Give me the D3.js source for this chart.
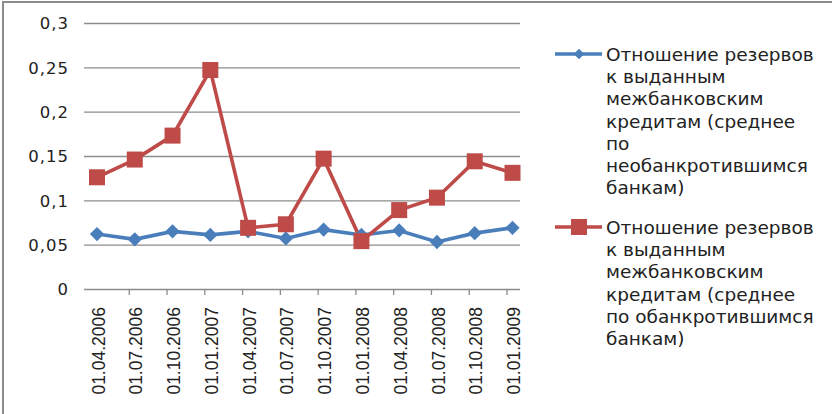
<!DOCTYPE html>
<html>
<head>
<meta charset="utf-8">
<script src="https://cdn.jsdelivr.net/npm/d3@7"></script>
<style>
  body { margin: 0; background: #fff; }
  svg { display: block; }
</style>
</head>
<body>
<div class="chart"></div>
<script>
/* Data
============================================= */
const DATES = ["01.04.2006", "01.07.2006", "01.10.2006", "01.01.2007",
               "01.04.2007", "01.07.2007", "01.10.2007", "01.01.2008",
               "01.04.2008", "01.07.2008", "01.10.2008", "01.01.2009"];

// average for banks that did not go bankrupt
const SURVIVED = [0.062, 0.056, 0.065, 0.061, 0.065, 0.057,
                  0.067, 0.061, 0.066, 0.053, 0.063, 0.069];

// average for banks that went bankrupt
const BANKRUPT = [0.126, 0.146, 0.173, 0.247, 0.069, 0.073,
                  0.147, 0.054, 0.089, 0.103, 0.144, 0.131];

const Y_TICKS = [0, 0.05, 0.1, 0.15, 0.2, 0.25, 0.3];

const LEGEND_1 = ["Отношение резервов", "к выданным", "межбанковским",
                  "кредитам (среднее", "по", "необанкротившимся", "банкам)"];
const LEGEND_2 = ["Отношение резервов", "к выданным", "межбанковским",
                  "кредитам (среднее", "по обанкротившимся", "банкам)"];

const BLUE = "#4a7ebb";
const RED = "#be4b48";

/* Layout
============================================= */
const SVG_WIDTH = 832;
const SVG_HEIGHT = 414;

const plotLeft = 84, plotRight = 520;
const plotTop = 23, plotBottom = 289;

var svg = d3.select(".chart")
    .append("svg")
    .attr("width", SVG_WIDTH)
    .attr("height", SVG_HEIGHT);

// chart frame (only left and top edges show)
svg.append("path")
    .attr("d", `M3,${SVG_HEIGHT} L3,2 L${SVG_WIDTH},2`)
    .attr("fill", "none")
    .attr("stroke", "#8c8c8c")
    .attr("stroke-width", 2);

var xScale = d3.scalePoint()
    .domain(DATES)
    .range([97, 512.5]);

var yScale = d3.scaleLinear()
    .domain([0, 0.3])
    .range([plotBottom, plotTop]);

var fmt = function(d) { return String(d).replace(".", ","); };

// gridlines + y labels
var yAxis = svg.append("g")
    .attr("transform", `translate(${plotLeft},0)`)
    .call(d3.axisLeft(yScale)
        .tickValues(Y_TICKS)
        .tickSize(-(plotRight - plotLeft))
        .tickPadding(15)
        .tickFormat(fmt));

yAxis.select(".domain").remove();
yAxis.selectAll(".tick line")
    .attr("stroke", "#8c8c8c")
    .attr("stroke-width", 1.3);
yAxis.selectAll(".tick text")
    .attr("font-family", "DejaVu Sans")
    .attr("font-size", 16.5)
    .attr("letter-spacing", 1)
    .attr("fill", "#222")
    .attr("dy", "0.35em");

// x axis
var xAxis = svg.append("g")
    .attr("transform", `translate(0,${plotBottom})`)
    .call(d3.axisBottom(xScale).tickSize(0).tickPadding(0));

xAxis.select(".domain").remove();

xAxis.selectAll(".tick text")
    .attr("font-family", "Liberation Sans")
    .attr("font-size", 17.5)
    .attr("fill", "#222")
    .attr("transform", "rotate(-90)")
    .attr("text-anchor", "end")
    .attr("x", -18)
    .attr("y", 1)
    .attr("dy", "0.35em");

// tick marks sit just left of each category (as in the source)
xAxis.selectAll(".tick")
    .filter(function(d, i) { return i > 0; })
    .append("line")
    .attr("x1", -6).attr("x2", -6)
    .attr("y1", 0).attr("y2", 6)
    .attr("stroke", "#8c8c8c")
    .attr("stroke-width", 1.3);

/* Series
============================================= */
var line = function(values) {
    return d3.line()
        .x(function(d, i) { return xScale(DATES[i]); })
        .y(function(d) { return yScale(d); })(values);
};

svg.append("path")
    .attr("d", line(SURVIVED))
    .attr("fill", "none")
    .attr("stroke", BLUE)
    .attr("stroke-width", 3.6);

svg.append("path")
    .attr("d", line(BANKRUPT))
    .attr("fill", "none")
    .attr("stroke", RED)
    .attr("stroke-width", 3.6);

var diamond = d3.symbol().type(d3.symbolDiamond2).size(130);

svg.append("g").selectAll("path")
    .data(SURVIVED)
    .enter()
    .append("path")
    .attr("d", diamond)
    .attr("transform", function(d, i) {
        return `translate(${xScale(DATES[i])},${yScale(d)})`;
    })
    .attr("fill", BLUE);

svg.append("g").selectAll("rect")
    .data(BANKRUPT)
    .enter()
    .append("rect")
    .attr("x", function(d, i) { return xScale(DATES[i]) - 8; })
    .attr("y", function(d) { return yScale(d) - 8; })
    .attr("width", 16)
    .attr("height", 16)
    .attr("fill", RED);

/* Legend
============================================= */
function legendEntry(lines, y0, color, isSquare) {
    var g = svg.append("g");
    g.append("line")
        .attr("x1", 555).attr("x2", 602)
        .attr("y1", y0).attr("y2", y0)
        .attr("stroke", color)
        .attr("stroke-width", 3.6);
    if (isSquare) {
        g.append("rect")
            .attr("x", 571).attr("y", y0 - 8)
            .attr("width", 16).attr("height", 16)
            .attr("fill", color);
    } else {
        g.append("path")
            .attr("d", d3.symbol().type(d3.symbolDiamond2).size(70))
            .attr("transform", `translate(579,${y0})`)
            .attr("fill", color);
    }
    g.selectAll("text")
        .data(lines)
        .enter()
        .append("text")
        .attr("x", 606)
        .attr("y", function(d, i) { return y0 + 7 + i * 22.2; })
        .attr("font-family", "DejaVu Sans")
        .attr("font-size", 18.5)
        .attr("fill", "#222")
        .text(function(d) { return d; });
}

legendEntry(LEGEND_1, 54, BLUE, false);
legendEntry(LEGEND_2, 227, RED, true);
</script>
</body>
</html>
